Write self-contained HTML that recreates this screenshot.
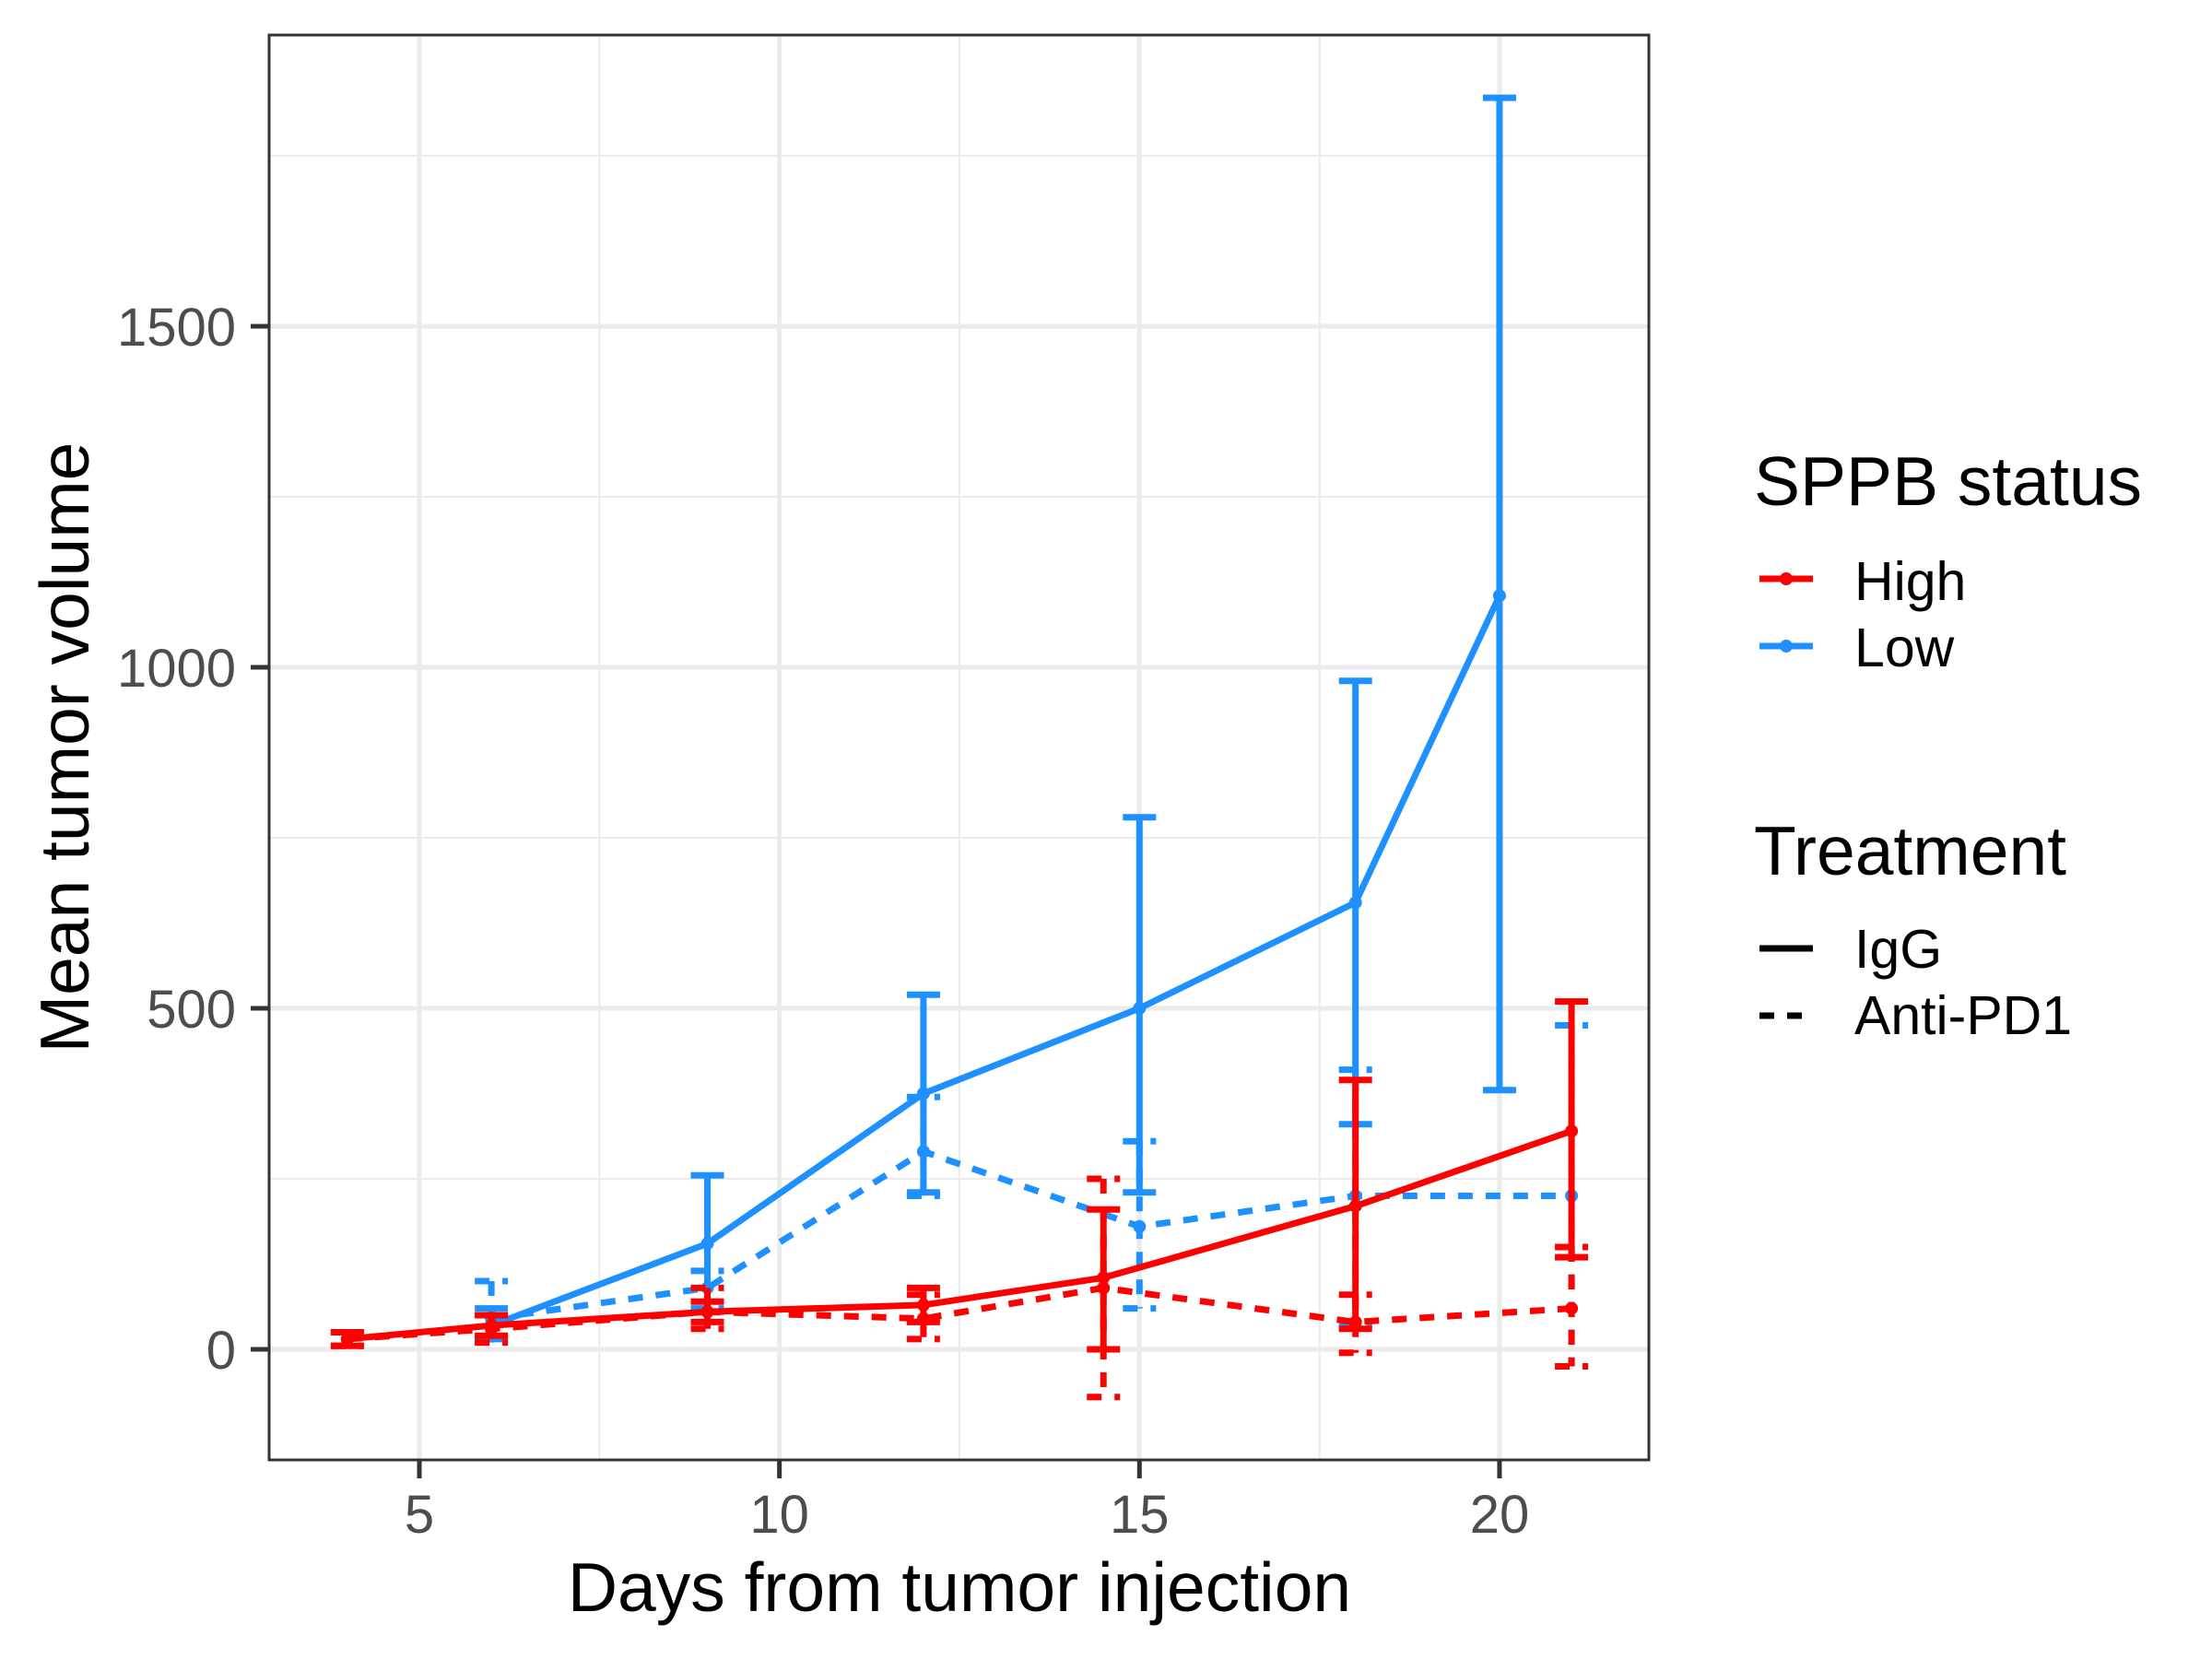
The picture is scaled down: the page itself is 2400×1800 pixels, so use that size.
<!DOCTYPE html>
<html><head><meta charset="utf-8"><style>
html,body{margin:0;padding:0;background:#fff;}
svg{display:block;font-family:"Liberation Sans",Arial,sans-serif;}
</style></head><body>
<svg id="chart" width="2400" height="1800" viewBox="0 0 2400 1800" xmlns="http://www.w3.org/2000/svg">
<g id="grid"></g>
<g id="marks"></g>
<rect x="292" y="38" width="1497" height="1546" fill="none" stroke="#333" stroke-width="3"/>
<g id="axes"></g>
<text x="1041" y="1748" font-size="75" text-anchor="middle" fill="#000">Days from tumor injection</text>
<text transform="translate(96,811) rotate(-90)" font-size="75" text-anchor="middle" fill="#000">Mean tumor volume</text>
<g>
<text x="1903" y="548" font-size="75" fill="#000">SPPB status</text>
<g><line x1="1909" y1="628" x2="1967" y2="628" stroke="#ff0000" stroke-width="7"/><circle cx="1938" cy="628" r="7" fill="#ff0000"/><text x="2012" y="651" font-size="59">High</text></g>
<g><line x1="1909" y1="701" x2="1967" y2="701" stroke="#1e90ff" stroke-width="7"/><circle cx="1938" cy="701" r="7" fill="#1e90ff"/><text x="2012" y="723" font-size="59">Low</text></g>
<text x="1903" y="949" font-size="75" fill="#000">Treatment</text>
<g><line x1="1909" y1="1029" x2="1967" y2="1029" stroke="#000" stroke-width="7"/><text x="2012" y="1050" font-size="59">IgG</text></g>
<g><line x1="1909" y1="1102" x2="1967" y2="1102" stroke="#000" stroke-width="7" stroke-dasharray="16,14"/><text x="2012" y="1122" font-size="59">Anti-PD1</text></g>
</g>
</svg>
<script>
const xTicks = [5, 10, 15, 20];
const yTicks = [0, 500, 1000, 1500];
const lowIggDays = [6, 9, 12, 15, 18, 20];
const lowIggMean = [35, 155, 375, 500, 655, 1105];
const lowIggLo = [15, 55, 230, 230, 330, 380];
const lowIggHi = [60, 255, 520, 780, 980, 1835];
const lowPd1Days = [6, 9, 12, 15, 18, 21];
const lowPd1Mean = [45, 90, 290, 180, 225, 225];
const lowPd1Lo = [10, 60, 225, 60, 35, -25];
const lowPd1Hi = [100, 115, 370, 305, 410, 475];
const highIggDays = [4, 6, 9, 12, 14.5, 18, 21];
const highIggMean = [15, 35, 55, 65, 105, 210, 320];
const highIggLo = [5, 20, 40, 40, 0, 30, 135];
const highIggHi = [25, 50, 70, 90, 205, 395, 510];
const highPd1Days = [4, 6, 9, 12, 14.5, 18, 21];
const highPd1Mean = [15, 30, 55, 45, 90, 40, 60];
const highPd1Lo = [5, 10, 30, 15, -70, -5, -25];
const highPd1Hi = [25, 50, 90, 80, 250, 80, 150];

const NS = "http://www.w3.org/2000/svg";
const X0 = 292, X1 = 1789, Y0 = 38, Y1 = 1584;
const xS = d => 455 + (d - 5) * 78.13;
const yS = v => 1464 - v * 0.74;
function mk(tag, attrs, parent) {
  const e = document.createElementNS(NS, tag);
  for (const k in attrs) e.setAttribute(k, attrs[k]);
  parent.appendChild(e);
  return e;
}
const grid = document.getElementById('grid');
const axes = document.getElementById('axes');
const marks = document.getElementById('marks');
for (let d = 2.5; d <= 22.5; d += 5) {
  if (xS(d) <= X0 || xS(d) >= X1) continue;
  const l = mk('line', {x1: xS(d), x2: xS(d), y1: Y0, y2: Y1, stroke: '#ebebeb', 'stroke-width': 2}, grid);
  
  
}
for (let v = -250; v <= 1750; v += 500) {
  if (yS(v) <= Y0 || yS(v) >= Y1) continue;
  const l = mk('line', {x1: X0, x2: X1, y1: yS(v), y2: yS(v), stroke: '#ebebeb', 'stroke-width': 2}, grid);
  
  
}
xTicks.forEach(t => {
  const g = mk('line', {x1: xS(t), x2: xS(t), y1: Y0, y2: Y1, stroke: '#ebebeb', 'stroke-width': 5}, grid);
  
  
  const tk = mk('line', {x1: xS(t), x2: xS(t), y1: Y1, y2: Y1 + 20, stroke: '#333', 'stroke-width': 5}, axes);
  
  
  const tx = mk('text', {x: xS(t), y: 1663, 'font-size': 58, fill: '#4d4d4d', 'text-anchor': 'middle'}, axes);
  tx.textContent = t;
  
  
});
yTicks.forEach(t => {
  const g = mk('line', {x1: X0, x2: X1, y1: yS(t), y2: yS(t), stroke: '#ebebeb', 'stroke-width': 5}, grid);
  
  
  const tk = mk('line', {x1: X0 - 20, x2: X0, y1: yS(t), y2: yS(t), stroke: '#333', 'stroke-width': 5}, axes);
  
  
  const tx = mk('text', {x: 256, y: yS(t) + 21, 'font-size': 58, fill: '#4d4d4d', 'text-anchor': 'end'}, axes);
  tx.textContent = t;
  
  
});
function series(name, days, mean, lo, hi, color, dashed) {
  const g = mk('g', {}, marks);
  
  
  const dash = dashed ? '16,14' : 'none';
  days.forEach((d, i) => {
    const x = xS(d);
    const eb = mk('path', {d: `M${x-18},${yS(hi[i])}H${x+18}M${x},${yS(hi[i])}V${yS(lo[i])}M${x-18},${yS(lo[i])}H${x+18}`, stroke: color, 'stroke-width': 7, fill: 'none', 'stroke-dasharray': dash}, g);
    
    
  });
  const pts = days.map((d, i) => xS(d) + ',' + yS(mean[i])).join(' ');
  const pl = mk('polyline', {points: pts, stroke: color, 'stroke-width': 7, fill: 'none', 'stroke-dasharray': dash}, g);
  
  
  days.forEach((d, i) => {
    const c = mk('circle', {cx: xS(d), cy: yS(mean[i]), r: 7, fill: color}, g);
    
    
  });
}
series('low-antipd1', lowPd1Days, lowPd1Mean, lowPd1Lo, lowPd1Hi, '#1e90ff', true);
series('low-igg', lowIggDays, lowIggMean, lowIggLo, lowIggHi, '#1e90ff', false);
series('high-antipd1', highPd1Days, highPd1Mean, highPd1Lo, highPd1Hi, '#ff0000', true);
series('high-igg', highIggDays, highIggMean, highIggLo, highIggHi, '#ff0000', false);
</script>
</body></html>
